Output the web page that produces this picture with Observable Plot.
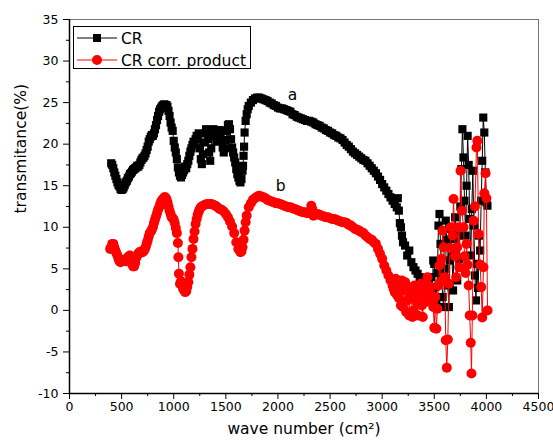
<!DOCTYPE html>
<html><head><meta charset="utf-8">
<script src="https://cdn.jsdelivr.net/npm/d3@7"></script>
<script src="https://cdn.jsdelivr.net/npm/@observablehq/plot@0.6"></script>
<style>body{margin:0;background:#fff;} #chart{width:553px;height:448px;}</style>
</head><body><div id="chart"></div>
<script>
// ---- data ----
const crX = [400,410,420,430,440,450,460,470,480,490,500,510,520,530,540,550,560,570,580,590,600,610,620,630,640,650,660,670,680,690,700,710,720,730,740,750,760,770,780,790,800,810,820,830,840,850,860,870,880,890,900,910,920,930,940,950,960,970,980,990,1000,1010,1020,1030,1040,1050,1060,1070,1080,1090,1100,1110,1120,1130,1140,1150,1160,1170,1180,1190,1200,1210,1220,1230,1240,1250,1260,1270,1280,1290,1300,1310,1320,1330,1340,1350,1360,1370,1380,1390,1400,1410,1420,1430,1440,1450,1460,1470,1480,1490,1500,1510,1520,1530,1540,1550,1560,1570,1580,1590,1600,1610,1620,1630,1640,1650,1660,1665,1670,1675,1680,1690,1700,1710,1720,1740,1760,1780,1800,1820,1840,1860,1880,1900,1920,1940,1960,1980,2000,2020,2040,2060,2080,2100,2120,2140,2160,2180,2200,2220,2240,2260,2280,2300,2320,2340,2360,2380,2400,2420,2440,2460,2480,2500,2520,2540,2560,2580,2600,2620,2640,2660,2680,2700,2720,2740,2760,2780,2800,2820,2840,2860,2880,2900,2920,2940,2960,2980,3000,3020,3040,3060,3080,3100,3120,3140,3150,3160,3170,3180,3190,3200,3220,3240,3260,3280,3300,3320,3340,3360,3380,3400,3420,3440,3460,3470,3480,3490,3500,3510,3520,3530,3540,3550,3560,3570,3580,3590,3600,3610,3620,3630,3640,3650,3660,3670,3680,3690,3700,3710,3720,3730,3740,3750,3760,3770,3780,3790,3800,3810,3820,3830,3840,3850,3860,3870,3880,3890,3900,3910,3920,3930,3940,3950,3960,3970,3980,3990,4000,4010];
const crY = [17.7,17.5,17.1,16.6,16.2,15.8,15.4,15.1,14.9,14.6,14.5,14.6,14.8,15.1,15.4,15.6,15.9,16.1,16.4,16.5,16.7,16.9,17.0,17.1,17.2,17.4,17.3,17.5,17.8,18.1,18.3,18.4,18.6,18.9,19.3,19.7,20.3,20.6,20.9,21.1,21.0,21.3,21.8,22.3,22.9,23.4,23.9,24.2,24.4,24.6,24.7,24.8,24.6,24.7,24.5,24.0,23.4,22.6,22.0,21.6,20.4,19.6,19.0,18.2,17.2,16.6,16.2,16.0,16.3,16.6,16.9,17.3,17.1,17.6,18.0,18.6,19.1,19.5,19.9,20.3,20.0,20.6,21.0,20.8,21.3,19.5,18.2,17.6,18.8,20.2,21.3,21.8,21.6,20.6,19.0,18.0,19.5,21.0,21.8,21.5,21.0,20.3,20.8,21.5,21.7,21.2,20.4,19.6,19.0,19.5,20.5,21.6,22.3,22.4,21.8,20.6,19.6,19.0,18.4,17.8,17.0,16.4,16.0,15.6,15.4,15.8,16.8,17.4,18.6,19.7,21.4,22.8,23.6,24.2,24.6,25.0,25.3,25.5,25.6,25.6,25.5,25.4,25.3,25.2,25.0,24.9,24.7,24.6,24.4,24.3,24.3,24.2,24.1,24.0,23.9,23.6,23.5,23.3,23.2,23.1,23.0,22.9,22.8,22.8,22.7,22.6,22.4,22.3,22.2,22.0,21.9,21.7,21.6,21.4,21.3,21.1,21.0,20.8,20.7,20.5,20.2,19.9,19.7,19.4,19.1,18.9,18.7,18.5,18.3,18.1,18.0,17.7,17.4,17.1,16.8,16.5,16.1,15.7,15.2,14.8,14.4,14.0,13.6,13.2,12.8,12.4,13.5,12.0,10.5,10.0,9.0,8.2,7.8,6.6,7.2,5.8,5.2,4.8,4.4,4.0,3.6,3.2,2.6,1.8,1.2,4.0,2.2,6.0,5.6,2.8,0.8,4.5,10.2,11.6,8.0,4.2,1.6,0.4,5.0,10.8,8.5,3.0,0.4,6.0,9.8,6.5,2.4,8.6,11.2,7.0,3.6,9.0,6.2,12.5,17.0,21.8,18.4,13.2,9.0,15.0,21.0,17.5,11.0,6.6,12.2,16.8,10.2,4.2,1.2,5.6,2.7,9.0,7.2,13.2,18.0,23.2,21.4,16.6,13.0,12.6];

const prodX = [390,400,410,420,430,440,450,460,470,480,490,500,510,520,530,540,550,560,570,580,590,600,610,620,630,640,650,660,670,680,690,700,710,720,730,740,750,760,770,780,790,800,810,820,830,840,850,860,870,880,890,900,910,920,930,940,950,960,970,980,990,1000,1010,1020,1030,1040,1045,1050,1060,1070,1080,1090,1100,1110,1120,1130,1140,1150,1160,1170,1180,1190,1200,1210,1220,1230,1240,1250,1260,1280,1300,1320,1340,1360,1380,1400,1420,1440,1460,1480,1500,1520,1540,1560,1580,1600,1620,1640,1650,1660,1670,1680,1690,1700,1720,1740,1760,1780,1800,1820,1840,1860,1880,1900,1920,1940,1960,1980,2000,2020,2040,2060,2080,2100,2120,2140,2160,2180,2200,2220,2240,2260,2280,2300,2320,2330,2340,2360,2380,2400,2420,2440,2460,2480,2500,2520,2540,2560,2580,2600,2620,2640,2660,2680,2700,2720,2740,2760,2780,2800,2820,2840,2860,2880,2900,2920,2940,2960,2980,3000,3020,3040,3060,3080,3100,3110,3120,3130,3140,3150,3160,3170,3180,3190,3200,3210,3220,3230,3240,3250,3260,3270,3280,3290,3300,3310,3320,3330,3340,3350,3360,3370,3380,3390,3400,3410,3420,3435,3440,3450,3460,3470,3480,3490,3500,3510,3520,3530,3540,3550,3560,3570,3580,3590,3600,3610,3620,3630,3640,3650,3660,3675,3685,3700,3710,3720,3730,3740,3752,3765,3781,3790,3800,3810,3820,3830,3840,3850,3857,3865,3877,3890,3905,3913,3925,3940,3950,3960,3972,3980,3992,4000,4011];
const prodY = [7.4,7.6,8.0,8.0,7.6,7.2,6.9,6.6,6.2,5.9,5.8,5.9,6.0,6.1,6.0,5.9,6.2,6.4,6.5,6.6,6.3,5.6,5.3,5.3,5.7,6.3,6.6,6.8,7.0,7.0,7.1,7.0,7.1,7.3,7.6,8.0,8.4,8.9,9.3,9.5,9.7,10.0,10.5,10.9,11.3,11.7,12.1,12.4,12.8,13.1,13.3,13.4,13.6,13.6,13.4,13.0,12.5,12.0,11.6,11.2,11.1,10.9,10.5,9.9,9.3,8.1,6.4,4.4,3.2,3.5,3.0,2.6,2.4,2.2,2.3,2.8,3.4,4.3,5.2,6.4,7.4,8.6,9.5,10.4,11.0,11.5,11.9,12.2,12.4,12.6,12.7,12.8,12.8,12.8,12.7,12.6,12.4,12.2,12.1,11.9,11.6,11.2,10.7,10.1,9.3,8.2,7.4,7.0,7.1,7.6,8.5,9.6,10.6,11.4,12.4,12.9,13.3,13.5,13.7,13.8,13.7,13.6,13.5,13.3,13.2,13.1,13.0,12.9,12.9,12.8,12.7,12.6,12.5,12.4,12.4,12.3,12.2,12.1,12.0,11.9,11.8,11.8,11.7,11.8,12.6,12.2,11.4,11.5,11.6,11.5,11.4,11.3,11.2,11.2,11.1,11.0,11.0,10.9,10.8,10.7,10.6,10.6,10.5,10.3,10.2,10.0,9.8,9.7,9.6,9.4,9.3,9.0,8.8,8.6,8.5,8.2,8.0,7.4,6.8,6.2,5.4,4.8,4.2,3.6,3.0,2.6,2.2,3.8,1.9,3.2,1.5,2.8,0.6,3.6,0.4,2.4,3.4,-0.2,1.2,2.8,-0.6,1.6,2.0,-0.8,0.0,3.0,2.6,1.0,-0.6,1.8,2.2,3.2,0.6,-0.8,3.0,2.2,1.0,4.0,3.0,1.4,2.0,2.8,1.2,0.4,-2.1,1.6,-2.2,0.2,3.0,5.4,3.4,6.2,9.6,7.6,4.0,-3.6,-6.9,-3.5,3.2,7.5,10.0,9.0,13.4,6.5,4.0,7.6,10.0,5.2,16.8,12.0,10.0,6.5,4.5,8.0,5.5,3.0,-0.6,-3.9,-7.6,-0.6,10.8,12.5,19.6,20.4,9.2,5.5,2.8,-0.85,5.2,14.1,16.5,13.5,0.0];

const seriesNames = ["CR", "CR corr. product"];
const seriesColors = ["#000000", "#ff0000"];
const xTicks = [0,500,1000,1500,2000,2500,3000,3500,4000,4500];
const xMinor = [250,750,1250,1750,2250,2750,3250,3750,4250];
const yTicks = [-10,-5,0,5,10,15,20,25,30,35];
const yMinor = [-7.5,-2.5,2.5,7.5,12.5,17.5,22.5,27.5,32.5];
const xLabel = "wave number (cm²)";
const yLabel = "transmitance(%)";
const curveLabels = ["a", "b"];
const curveLabelX = [2140, 2025];
const curveLabelY = [25.9, 15.0];

const cr = crX.map((x, i) => ({x, y: crY[i]}));
const prod = prodX.map((x, i) => ({x, y: prodY[i]}));
const notes = curveLabels.map((t, i) => ({t, x: curveLabelX[i], y: curveLabelY[i]}));
const fmt = d => (d < 0 ? "-" + Math.abs(d) : String(d));

const plot = Plot.plot({
  width: 553, height: 448,
  marginLeft: 69, marginRight: 15, marginTop: 19, marginBottom: 55,
  style: {fontFamily: "DejaVu Sans", fontSize: "12.5px", color: "#000", background: "#fff"},
  x: {domain: [0, 4500]},
  y: {domain: [-10, 35]},
  marks: [
    Plot.frame({stroke: "#777", strokeWidth: 1}),
    Plot.axisX({ticks: xMinor, tickSize: 3, text: null, label: null, stroke: "#000"}),
    Plot.axisX({ticks: xTicks, tickSize: 6, tickPadding: 3, label: null, tickFormat: fmt, stroke: "#000"}),
    Plot.axisY({ticks: yMinor, tickSize: 3, text: null, label: null, stroke: "#000"}),
    Plot.axisY({ticks: yTicks, tickSize: 6, tickPadding: 5, label: null, tickFormat: fmt, stroke: "#000"}),
    Plot.ruleX([0], {stroke: "#000", strokeWidth: 1.5}),
    Plot.ruleY([-10], {stroke: "#000", strokeWidth: 1.5}),
    Plot.line(cr, {x: "x", y: "y", stroke: seriesColors[0], strokeWidth: 1}),
    Plot.dot(cr, {x: "x", y: "y", symbol: "square", r: 4.6, fill: seriesColors[0]}),
    Plot.line(prod, {x: "x", y: "y", stroke: seriesColors[1], strokeWidth: 1}),
    Plot.dot(prod, {x: "x", y: "y", symbol: "circle", r: 5, fill: seriesColors[1]}),
    Plot.text(notes, {x: "x", y: "y", text: "t", fontSize: 15.5, fill: "#000"}),
    Plot.text([yLabel], {text: d => d, frameAnchor: "left", rotate: -90, dx: -48, dy: 7, fontSize: 15.5, fill: "#000"}),
    Plot.text([xLabel], {text: d => d, frameAnchor: "bottom", dy: 40, fontSize: 15.5, fill: "#000"})
  ]
});

// legend inside the plot frame (top-left)
const svg = d3.select(plot);
const lg = svg.append("g").attr("font-family", "DejaVu Sans").attr("font-size", 15.5).attr("text-anchor", "start");
lg.append("rect").attr("x", 73.5).attr("y", 26.5).attr("width", 177).attr("height", 42)
  .attr("fill", "#fff").attr("stroke", "#000").attr("stroke-width", 1);
seriesNames.forEach((name, i) => {
  const cy = 38 + i * 22;
  lg.append("line").attr("x1", 77).attr("x2", 117).attr("y1", cy).attr("y2", cy)
    .attr("stroke", seriesColors[i]).attr("stroke-width", 1);
  if (i === 0) {
    lg.append("rect").attr("x", 93).attr("y", cy - 4).attr("width", 8).attr("height", 8).attr("fill", seriesColors[i]);
  } else {
    lg.append("circle").attr("cx", 97).attr("cy", cy).attr("r", 5).attr("fill", seriesColors[i]);
  }
  lg.append("text").attr("x", 121).attr("y", cy).attr("dy", "0.36em").attr("text-anchor", "start")
    .attr("fill", "#000").text(name);
});

document.getElementById("chart").appendChild(plot);
</script>
</body></html>
